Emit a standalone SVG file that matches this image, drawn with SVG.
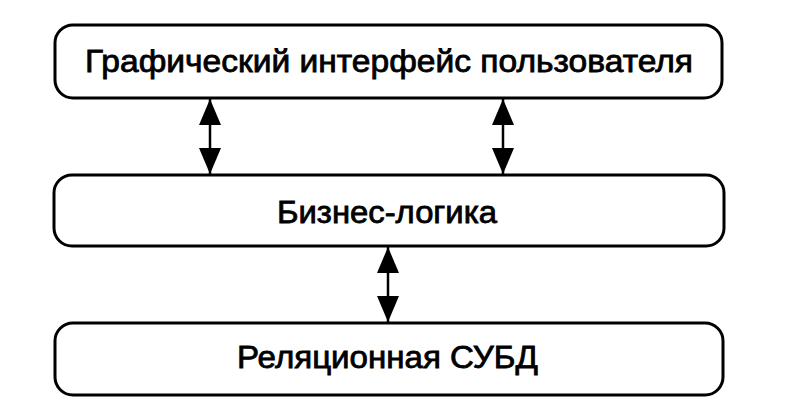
<svg xmlns="http://www.w3.org/2000/svg" width="793" height="416" viewBox="0 0 793 416">
<style>
.box{fill:#fff;stroke:#000;stroke-width:3}
.lbl{font-family:"Liberation Sans",Arial,sans-serif;font-size:31px;fill:#000;stroke:#000;stroke-width:0.8;text-anchor:middle}
.con{stroke:#000;stroke-width:2.5;fill:none;marker-start:url(#ah);marker-end:url(#ah)}
</style>
<defs>
<marker id="ah" viewBox="0 0 26 22" refX="26" refY="11" markerWidth="26" markerHeight="22" markerUnits="userSpaceOnUse" orient="auto-start-reverse">
<path d="M0,0 L26,11 L0,22 Z" fill="#000"/>
</marker>
</defs>
<rect width="793" height="416" fill="#fff"/>
<g id="connectors">
<line class="con" x1="210" y1="99" x2="210" y2="174"/>
<line class="con" x1="503" y1="99" x2="503" y2="174"/>
<line class="con" x1="388" y1="247" x2="388" y2="322"/>
</g>
<g id="gui">
<rect class="box" x="55" y="25" width="667" height="73" rx="18"/>
<text class="lbl" x="389" y="72" textLength="608" lengthAdjust="spacingAndGlyphs">Графический интерфейс пользователя</text>
</g>
<g id="logic">
<rect class="box" x="54" y="175" width="670" height="71" rx="18"/>
<text class="lbl" x="387" y="223" textLength="220" lengthAdjust="spacingAndGlyphs">Бизнес-логика</text>
</g>
<g id="dbms">
<rect class="box" x="55" y="323" width="668" height="72" rx="18"/>
<text class="lbl" x="387.5" y="368" textLength="301" lengthAdjust="spacingAndGlyphs">Реляционная СУБД</text>
</g>
</svg>
